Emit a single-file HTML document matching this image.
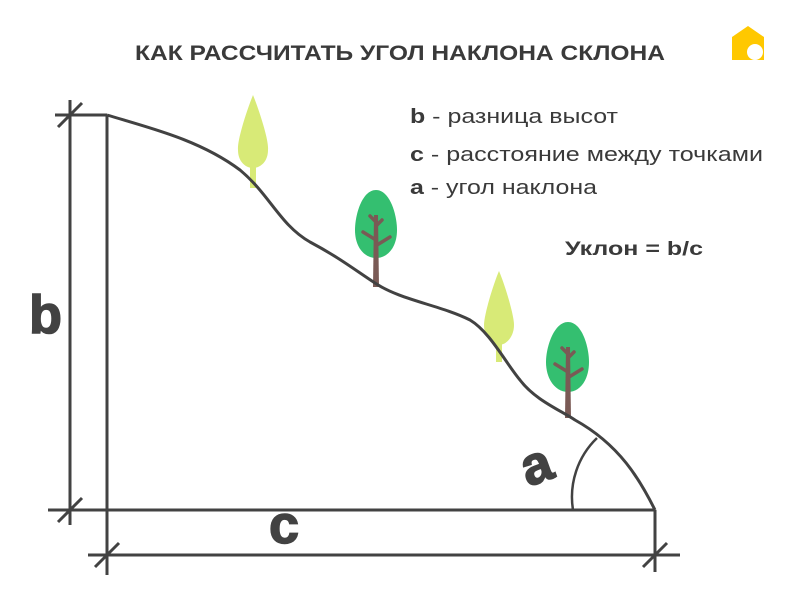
<!DOCTYPE html>
<html><head><meta charset="utf-8"><style>
body{margin:0;background:#fff;}
svg{display:block;font-family:"Liberation Sans",sans-serif;}
</style></head><body>
<svg width="800" height="600" viewBox="0 0 800 600">
<text x="135" y="60" textLength="530" lengthAdjust="spacingAndGlyphs" font-size="21" font-weight="bold" fill="#3a3a3a">КАК РАССЧИТАТЬ УГОЛ НАКЛОНА СКЛОНА</text>
<path d="M732 37 L748 26 L764 37 L764 60 L732 60 Z" fill="#FFC800"/>
<circle cx="755" cy="52" r="8" fill="#fff"/>
<g font-size="20" fill="#3a3a3a">
<text x="410" y="123" textLength="208" lengthAdjust="spacingAndGlyphs"><tspan font-weight="bold">b</tspan> - разница высот</text>
<text x="410" y="161" textLength="353" lengthAdjust="spacingAndGlyphs"><tspan font-weight="bold">c</tspan> - расстояние между точками</text>
<text x="410" y="194" textLength="187" lengthAdjust="spacingAndGlyphs"><tspan font-weight="bold">a</tspan> - угол наклона</text>
<text x="565" y="255" font-weight="bold" font-size="19" textLength="138" lengthAdjust="spacingAndGlyphs">Уклон = b/c</text>
</g>
<g>
<rect x="250" y="160" width="6" height="28" fill="#d8ea77"/>
<path d="M253 95 C247 110 237 140 238 150 C238 162 246 168 253 168 C260 168 268 162 268 150 C269 140 259 110 253 95Z" fill="#d8ea77"/>
<path d="M376 190 C362 190 355 215 355 230 C355 248 365 258 376 258 C387 258 397 248 397 230 C397 215 390 190 376 190Z" fill="#34bf70"/>
<path d="M374 215 L378 215 L379 287 L373 287Z" fill="#7a5a55"/>
<path d="M376 240 L363 232 M377 245 L390 237 M376 222 L370 216 M377 225 L382 220" stroke="#7a5a55" stroke-width="3.5" stroke-linecap="round"/>
<rect x="496" y="335" width="6" height="27" fill="#d8ea77"/>
<path d="M499 271 C493 285 484 315 484 325 C484 337 492 345 499 345 C506 345 514 337 514 325 C514 315 505 285 499 271Z" fill="#d8ea77"/>
<path d="M568 322 C554 322 546 347 546 362 C546 380 556 392 568 392 C580 392 589 380 589 362 C589 347 582 322 568 322Z" fill="#34bf70"/>
<path d="M566 347 L570 347 L571 418 L565 418Z" fill="#7a5a55"/>
<path d="M568 372 L555 364 M569 377 L582 369 M568 354 L562 348 M569 357 L574 352" stroke="#7a5a55" stroke-width="3.5" stroke-linecap="round"/>
</g>
<g stroke="#424242" stroke-width="3" fill="none">
<path d="M107 115 C150 128 200 140 240 170 C270 195 280 225 310 242 C340 258 355 270 375 283 C400 300 440 305 470 320 C490 332 505 362 520 380 C535 400 560 410 575 420 C620 445 640 480 655 510"/>
<path d="M573 510 A82 82 0 0 1 597 438" stroke-width="2.5"/>
<line x1="70" y1="100" x2="70" y2="525"/>
<line x1="55" y1="115" x2="107" y2="115"/>
<line x1="107" y1="115" x2="107" y2="575"/>
<line x1="48" y1="510" x2="655" y2="510"/>
<line x1="88" y1="555" x2="680" y2="555"/>
<line x1="655" y1="510" x2="655" y2="572"/>
<line x1="58" y1="127" x2="82" y2="103"/>
<line x1="58" y1="522" x2="82" y2="498"/>
<line x1="95" y1="567" x2="119" y2="543"/>
<line x1="643" y1="567" x2="667" y2="543"/>
</g>
<g font-weight="bold" fill="#424242" font-size="54" stroke="#424242" stroke-width="1.5">
<text x="29" y="333">b</text>
<text x="269" y="543">c</text>
<text x="0" y="0" transform="translate(528,487) rotate(-20)">a</text>
</g>
</svg>
</body></html>
